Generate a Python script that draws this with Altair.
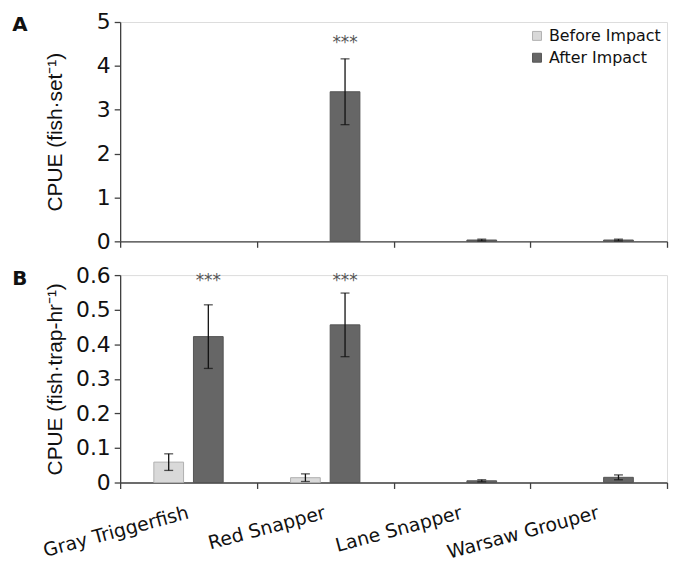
import altair as alt
import pandas as pd

species = ["Gray Triggerfish", "Red Snapper", "Lane Snapper", "Warsaw Grouper"]
periods = ["Before Impact", "After Impact"]

# Panel A: CPUE (fish per set); None = no catch (no bar)
set_before = [None, None, None, None]
set_before_se = [None, None, None, None]
set_after = [None, 3.41, 0.03, 0.03]
set_after_se = [None, 0.75, 0.02, 0.02]
set_stars = ["", "***", "", ""]

# Panel B: CPUE (fish per trap-hr)
trap_before = [0.059, 0.014, None, None]
trap_before_se = [0.024, 0.011, None, None]
trap_after = [0.422, 0.456, 0.005, 0.015]
trap_after_se = [0.092, 0.092, 0.003, 0.007]
trap_stars = ["***", "***", "", ""]

fill_colors = ["#d9d9d9", "#666666"]
stroke_colors = ["#b0b0b0", "#555555"]

FONT = "DejaVu Sans"
TFONT = "Liberation Sans"
W = 551


def make_df(before, before_se, after, after_se):
    rows = []
    for i, s in enumerate(species):
        for p, vals, ses in [(periods[0], before, before_se), (periods[1], after, after_se)]:
            if vals[i] is not None:
                rows.append({"species": s, "period": p, "value": vals[i], "se": ses[i]})
    return pd.DataFrame(rows)


def panel(df, stars, ytitle, ydomain, yvalues, yformat, height, letter, letter_y,
          star_y, show_labels, show_legend):
    xscale = alt.Scale(domain=species, paddingInner=0, paddingOuter=0)
    xaxis = alt.Axis(
        title=None, labels=show_labels, tickBand="extent", domainColor="#404040",
        domainWidth=1.3, tickColor="#404040", tickWidth=1.3, tickSize=6,
        labelAngle=-15, labelAlign="right", labelBaseline="top", labelFontSize=19,
        labelFont=FONT, labelColor="#111111", labelPadding=15, labelOffset=-3,
        labelLimit=300,
    )
    xoff = alt.XOffset("period:N", sort=periods,
                       scale=alt.Scale(domain=periods, paddingInner=0.25, paddingOuter=0.85))
    yscale = alt.Scale(domain=ydomain, nice=False, zero=True)
    yaxis = alt.Axis(
        title=ytitle, values=yvalues, format=yformat, grid=False,
        domainColor="#404040", domainWidth=1.3, tickColor="#404040", tickWidth=1.3,
        tickSize=6, labelFontSize=22, labelFont=FONT, labelColor="#111111",
        labelPadding=4, titleFontSize=21, titleFont=TFONT, titleFontWeight="normal",
        titleColor="#111111", minExtent=44, maxExtent=44, titlePadding=11,
    )
    if show_legend:
        legend = alt.Legend(
            title=None, orient="none", legendX=412, legendY=6, symbolType="square",
            symbolSize=81, symbolStrokeWidth=1, labelFontSize=16, labelFont=FONT,
            labelColor="#111111", rowPadding=6, labelOffset=4,
        )
    else:
        legend = None

    def X():
        return alt.X("species:N", sort=species, scale=xscale, axis=xaxis)

    base = alt.Chart(df)
    bars = base.mark_bar(strokeWidth=1).encode(
        x=X(),
        xOffset=xoff,
        y=alt.Y("value:Q", scale=yscale, axis=yaxis),
        fill=alt.Fill("period:N", sort=periods,
                      scale=alt.Scale(domain=periods, range=fill_colors), legend=legend),
        stroke=alt.Stroke("period:N", sort=periods,
                          scale=alt.Scale(domain=periods, range=stroke_colors), legend=legend),
    )
    err = base.transform_calculate(
        lo="datum.value - datum.se", hi="datum.value + datum.se"
    )
    rule = err.mark_rule(color="#111111", strokeWidth=1.3).encode(
        x=X(), xOffset=xoff,
        y=alt.Y("lo:Q", scale=yscale, axis=yaxis),
        y2="hi:Q",
    )
    cap_lo = err.mark_tick(color="#111111", thickness=1.3, size=9).encode(
        x=X(), xOffset=xoff, y=alt.Y("lo:Q", scale=yscale, axis=yaxis))
    cap_hi = err.mark_tick(color="#111111", thickness=1.3, size=9).encode(
        x=X(), xOffset=xoff, y=alt.Y("hi:Q", scale=yscale, axis=yaxis))

    star_df = pd.DataFrame({"species": species, "stars": stars,
                            "period": [periods[1]] * len(species)})
    star_text = alt.Chart(star_df).mark_text(
        fontSize=17, font=FONT, color="#555555", baseline="middle"
    ).encode(
        x=X(), xOffset=xoff, text="stars:N",
        y=alt.value(star_y),
    )
    letter_text = alt.Chart(pd.DataFrame({"t": [letter]})).mark_text(
        fontSize=20, font=FONT, fontWeight="bold", color="#111111", baseline="middle"
    ).encode(text="t:N", x=alt.value(-101), y=alt.value(letter_y))

    return alt.layer(bars, rule, cap_lo, cap_hi, star_text, letter_text).properties(
        width=W, height=height
    )


df_set = make_df(set_before, set_before_se, set_after, set_after_se)
df_trap = make_df(trap_before, trap_before_se, trap_after, trap_after_se)

top = panel(df_set, set_stars, "CPUE (fish·set⁻¹)", [0, 5], [0, 1, 2, 3, 4, 5], "d",
            221, "A", 3, 21, False, True)
bottom = panel(df_trap, trap_stars, "CPUE (fish·trap-hr⁻¹)", [0, 0.6],
               [0, 0.1, 0.2, 0.3, 0.4, 0.5, 0.6], ".1~f", 209, "B", 4, 6, True, False)

chart = alt.vconcat(top, bottom, spacing=10).resolve_scale(
    fill="independent", stroke="independent"
).properties(
    padding={"left": 3, "top": 0, "right": 0, "bottom": 0}
).configure_view(stroke=None).configure(background="white")

chart.save("out.html", embed_options={"renderer": "svg", "actions": False})
